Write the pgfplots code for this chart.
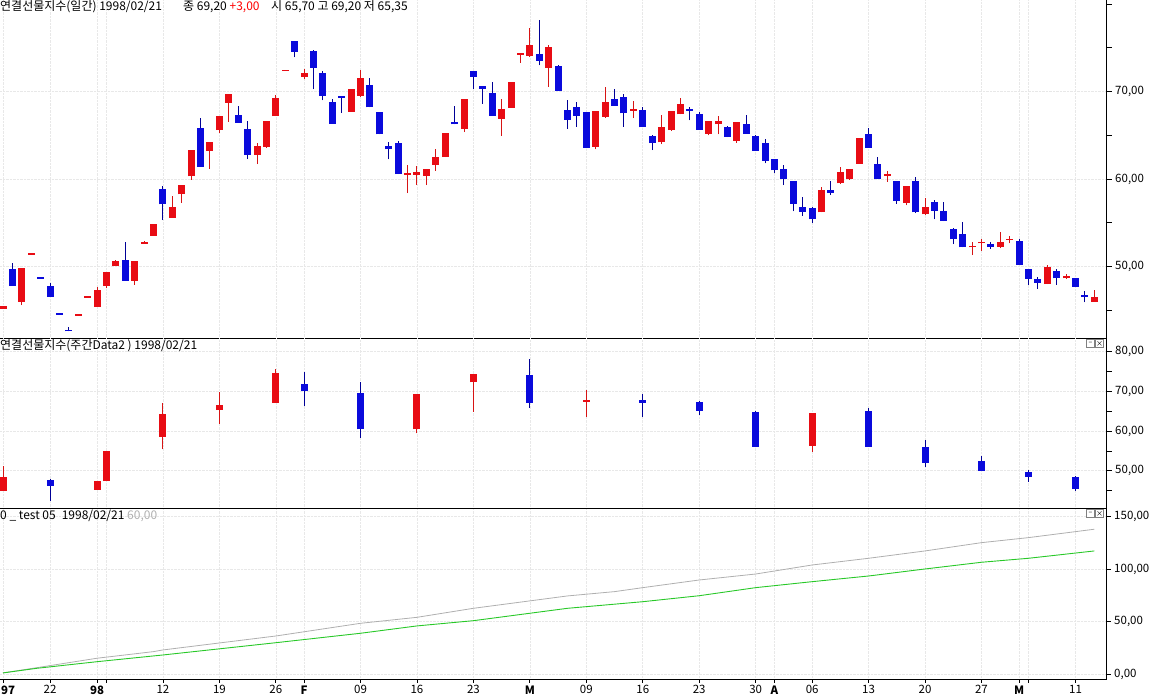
\documentclass[border=0pt]{standalone}
\usepackage{fontspec}
\setmainfont{Noto Sans CJK KR}
\usepackage{pgfplots}
\usepackage{pgfplotstable}
\pgfplotsset{compat=1.18}
\definecolor{cred}{RGB}{232,12,20}
\definecolor{credw}{RGB}{215,20,20}
\definecolor{cblue}{RGB}{10,10,220}
\definecolor{cbluew}{RGB}{0,0,150}
\definecolor{cgreen}{RGB}{40,200,40}
\definecolor{cgray}{RGB}{175,175,175}
\definecolor{gridc}{RGB}{232,232,232}

% daily up (red) candles: x L H B(open) T(close)
\pgfplotstableread{
x L H B T
0 45.2 45.5 45.2 45.5
2 45.6 49.8 46.0 49.8
3 51.35 51.5 51.35 51.5
8 44.4 44.55 44.4 44.55
9 46.45 46.6 46.45 46.6
10 45.4 47.7 45.4 47.3
11 47.5 49.4 47.8 49.4
12 50.1 50.7 50.1 50.6
14 47.9 50.6 48.4 50.6
15 52.6 52.9 52.6 52.75
16 53.5 54.9 53.5 54.9
18 55.6 58.1 55.6 56.8
19 57.3 59.3 58.25 59.3
20 59.9 63.3 60.3 63.3
22 61.2 64.2 63.2 64.2
23 65.3 67.2 65.6 67.2
24 66.55 69.7 68.7 69.7
27 61.7 64.15 62.8 63.8
28 63.55 66.6 63.7 66.6
29 67.2 69.6 67.2 69.3
30 72.35 72.5 72.35 72.5
32 71.4 72.55 71.7 72.15
37 67.7 70.3 67.7 70.3
38 69.4 72.46 69.5 71.5
43 58.4 61.6 60.5 60.65
44 59.3 61.5 60.5 60.8
45 59.3 61.2 60.4 61.15
46 60.95 63.4 61.65 62.5
47 62.5 65.3 62.5 65.3
49 65.35 69.2 65.7 69.2
53 64.95 69.2 66.9 68.0
54 68.15 71.1 68.15 71.1
55 73.3 74.35 74.2 74.35
56 74.0 77.3 74.05 75.3
58 70.55 75.3 72.7 75.1
63 63.4 67.8 63.7 67.8
64 67.0 70.5 67.1 68.8
67 66.95 68.95 67.8 67.95
70 64.0 67.3 64.2 65.95
71 65.5 67.8 65.6 67.8
72 67.4 69.3 67.4 68.6
75 65.0 66.6 65.15 66.6
76 65.1 67.2 66.25 66.6
78 64.15 66.5 64.4 66.5
87 56.2 59.1 56.2 58.7
89 59.45 61.35 59.5 60.8
90 59.9 61.2 60.0 61.2
91 61.75 64.65 61.75 64.65
94 59.7 60.95 60.4 60.55
96 57.0 59.2 57.3 59.2
98 55.9 57.8 55.95 56.8
103 51.3 52.75 52.2 52.35
104 51.8 53.1 52.65 52.8
106 52.1 53.9 52.25 52.8
107 52.65 53.45 53.05 53.2
111 48.0 50.2 48.0 49.9
113 48.6 49.2 48.65 48.95
116 46.0 47.3 46.0 46.5
}\dayUp

% daily down (blue) candles: x L H B(close) T(open)
\pgfplotstableread{
x L H B T
1 47.8 50.4 47.8 49.7
4 48.6 48.75 48.6 48.75
5 46.55 48.1 46.55 47.8
6 44.5 44.65 44.5 44.65
7 42.6 43.05 42.6 42.75
13 48.4 52.8 48.4 50.75
17 55.3 59.2 57.1 58.9
21 61.4 67.0 61.4 65.8
25 66.45 68.35 66.45 67.3
26 62.3 66.6 62.8 65.7
31 73.9 75.8 74.55 75.8
33 70.25 74.75 72.7 74.6
34 69.0 72.4 69.5 72.1
35 66.3 69.1 66.3 68.8
36 67.6 69.45 69.3 69.45
39 68.2 71.5 68.2 70.7
40 65.1 67.7 65.1 67.7
41 62.25 64.25 63.4 63.8
42 60.55 64.4 60.55 64.1
48 66.25 68.3 66.25 66.5
50 70.3 72.4 71.7 72.3
51 68.6 70.6 70.3 70.6
52 67.25 71.1 67.25 69.8
57 73.0 78.2 73.5 74.3
59 70.1 73.0 70.1 72.9
60 65.75 69.0 66.8 67.9
61 66.0 68.8 67.25 68.2
62 63.5 67.7 63.6 67.7
65 68.4 70.25 68.4 69.2
66 66.0 69.7 67.5 69.4
68 65.9 68.2 65.9 67.9
69 63.3 65.0 64.1 64.9
73 66.7 68.2 67.8 67.95
74 65.6 67.7 65.65 67.4
77 64.8 66.05 64.85 65.9
79 65.2 67.3 65.2 66.25
80 63.2 65.0 63.25 64.9
81 61.8 64.55 62.1 64.1
82 60.65 62.3 61.0 62.3
83 59.3 61.6 60.0 61.1
84 56.3 59.8 57.2 59.8
85 55.8 57.9 56.25 56.8
86 54.95 56.8 55.4 56.65
88 58.2 59.8 58.45 58.75
92 63.6 65.8 63.6 65.1
93 60.0 62.5 60.0 61.7
95 57.2 59.8 57.5 59.8
97 56.1 60.2 56.2 59.8
99 55.4 57.6 56.4 57.4
100 55.2 57.4 55.25 56.35
101 52.55 54.45 53.1 54.25
102 52.2 55.1 52.2 53.7
105 52.05 52.8 52.25 52.55
108 50.2 53.15 50.2 52.95
109 47.9 49.7 48.6 49.7
110 47.45 48.8 48.15 48.55
112 47.9 49.75 48.65 49.5
114 47.65 48.7 47.7 48.7
115 45.9 47.2 46.5 46.75
}\dayDown

% weekly up (red)
\pgfplotstableread{
x L H B T
0 45.0 51.2 45.0 48.5
10 45.2 47.4 45.2 47.3
11 47.4 55.0 47.4 55.0
17 55.4 67.2 58.6 64.3
23 61.8 69.85 65.3 66.6
29 67.2 75.6 67.2 74.7
44 59.4 69.35 60.45 69.35
50 64.9 74.4 72.3 74.4
62 63.5 70.35 67.45 67.8
86 54.8 64.65 56.25 64.65
}\weekUp

% weekly down (blue)
\pgfplotstableread{
x L H B T
5 42.5 48.0 46.25 47.7
32 66.3 74.9 70.2 71.9
38 58.35 72.45 60.45 69.7
56 65.9 78.2 67.2 74.1
68 63.5 69.35 67.15 67.85
74 64.15 67.5 65.15 67.4
80 55.9 65.0 56.1 64.9
92 56.0 65.75 56.1 65.05
98 51.05 57.75 52.05 55.9
104 50.0 53.75 50.05 52.45
109 47.25 50.2 48.5 49.7
114 45.0 48.6 45.4 48.5
}\weekDown

\pgfplotsset{
  candle/.style 2 args={draw=none, mark=none, forget plot,
    error bars/.cd, y dir=plus, y explicit, error mark=none,
    error bar style={line width=#2, draw=#1, line cap=butt}},
  panel/.style={
    scale only axis, width=1106.7pt,
    xmin=-0.319, xmax=117.31,
    axis x line*=bottom, axis y line*=right,
    axis line style={black, line width=0.9pt, -},
    tick align=outside, major tick length=5pt, minor tick length=5pt,
    tick style={black, line width=0.8pt},
    xtick={0,5,10,11,17,23,29,32,38,44,50,56,62,68,74,80,82,86,92,98,104,108,109,114},
    xmajorgrids, ymajorgrids,
    major grid style={draw=gridc, densely dotted, line width=0.6pt},
    ticklabel style={font=\fontsize{11.5}{13}\selectfont},
    /pgf/number format/assume math mode=true,
    yticklabel style={/pgf/number format/.cd, fixed, fixed zerofill, precision=2, use comma},
    clip mode=individual,
  },
  noxlabels/.style={xticklabels={}, x tick style={draw=none}},
}
\tikzset{
  ttl/.style={anchor=base west, inner sep=0pt, font=\fontsize{12}{13}\selectfont},
  btn/.style={draw=gray, fill=white, minimum width=8pt, minimum height=8pt, inner sep=0pt, anchor=north east, font=\fontsize{7}{7}\selectfont},
}

\begin{document}
\begin{tikzpicture}
\useasboundingbox (0,0) rectangle (1160pt,700pt);

% ---------- top panel: daily ----------
\begin{axis}[panel, noxlabels, at={(0pt,361.7pt)}, anchor=south west,
  height=338.3pt, ymin=41.8, ymax=80.46,
  ytick={50,60,70}, minor ytick={45,55,65,75,80}]
\addplot[candle={credw}{1pt}] table[x=x, y=L, y error plus expr=\thisrow{H}-\thisrow{L}] {\dayUp};
\addplot[candle={cred}{7pt}] table[x=x, y=B, y error plus expr=\thisrow{T}-\thisrow{B}] {\dayUp};
\addplot[candle={cbluew}{1pt}] table[x=x, y=L, y error plus expr=\thisrow{H}-\thisrow{L}] {\dayDown};
\addplot[candle={cblue}{7pt}] table[x=x, y=B, y error plus expr=\thisrow{T}-\thisrow{B}] {\dayDown};
\node[ttl] at ([yshift=-11pt]rel axis cs:0,1) {연결선물지수(일간) 1998/02/21};
\node[ttl] at ([xshift=183pt,yshift=-11pt]rel axis cs:0,1) {종 69,20 \textcolor{red}{+3,00}};
\node[ttl] at ([xshift=271pt,yshift=-11pt]rel axis cs:0,1) {시 65,70 고 69,20 저 65,35};
\end{axis}

% ---------- middle panel: weekly ----------
\begin{axis}[panel, noxlabels, at={(0pt,191.7pt)}, anchor=south west,
  height=170pt, ymin=40.55, ymax=83.38,
  ytick={50,60,70,80}, minor ytick={45,55,65,75}]
\addplot[candle={credw}{1pt}] table[x=x, y=L, y error plus expr=\thisrow{H}-\thisrow{L}] {\weekUp};
\addplot[candle={cred}{7pt}] table[x=x, y=B, y error plus expr=\thisrow{T}-\thisrow{B}] {\weekUp};
\addplot[candle={cbluew}{1pt}] table[x=x, y=L, y error plus expr=\thisrow{H}-\thisrow{L}] {\weekDown};
\addplot[candle={cblue}{7pt}] table[x=x, y=B, y error plus expr=\thisrow{T}-\thisrow{B}] {\weekDown};
\node[ttl] at ([yshift=-11.7pt]rel axis cs:0,1) {연결선물지수(주간Data2 ) 1998/02/21};
\node[btn] at ([xshift=-3pt,yshift=-1.2pt]rel axis cs:1,1) {×};
\node[btn] at ([xshift=-12pt,yshift=-1.2pt]rel axis cs:1,1) {–};
\end{axis}

% ---------- bottom panel: lines ----------
\begin{axis}[panel, at={(0pt,21pt)}, anchor=south west,
  height=170.7pt, ymin=-4.8, ymax=157.96,
  ytick={0,50,100,150}, major tick length=4pt,
  xticklabels={\textbf{\makebox[0pt][l]{\hspace*{-2pt}97}},22,\textbf{98},{},12,19,26,\textbf{F},09,16,23,\textbf{M},09,16,23,30,\textbf{A},06,13,20,27,\textbf{M},{},11},
  xticklabel style={yshift=1pt}]
\addplot[cgray, line width=0.8pt] coordinates {
 (0,1) (3.6,6) (10,15) (16,21.3) (17,22.9) (29,36.2) (38,48.3) (44,54) (50,62.6)
 (60,74.4) (65,78.5) (68,82.3) (74,89.6) (80,95.3) (86,103.9) (92,110.3) (98,117.3)
 (104,125.2) (109,130) (116,138)};
\addplot[cgreen, line width=0.9pt] coordinates {
 (0,1) (3.6,5.4) (10,11.7) (17,18.1) (29,29.8) (38,38.8) (44,45.8) (50,50.8)
 (60,62.6) (68,68.9) (74,74.6) (80,82.3) (86,88) (92,93.4) (98,100.1) (104,106.5)
 (109,110.3) (116,117.3)};
\node[ttl] at ([yshift=-11.7pt]rel axis cs:0,1) {0 \_ test 05\enspace 1998/02/21 \textcolor{cgray}{60,00}};
\node[btn] at ([xshift=-3pt,yshift=-1.2pt]rel axis cs:1,1) {×};
\node[btn] at ([xshift=-12pt,yshift=-1.2pt]rel axis cs:1,1) {–};
\end{axis}
\end{tikzpicture}
\end{document}
